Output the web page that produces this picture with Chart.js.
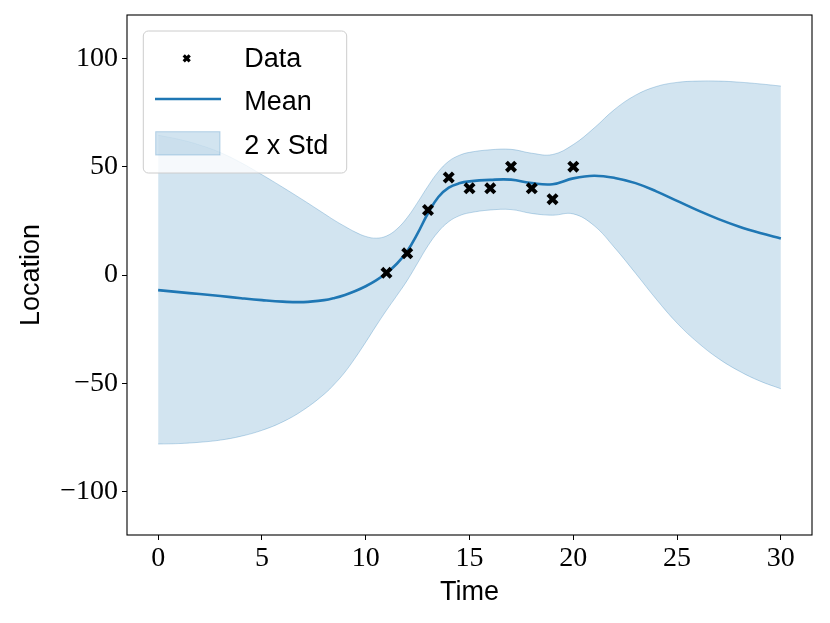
<!DOCTYPE html>
<html><head><meta charset="utf-8">
<script src="https://cdn.jsdelivr.net/npm/chart.js@4.4.0/dist/chart.umd.min.js"></script>
<style>html,body{margin:0;padding:0;background:#fff;}#wrap{width:830px;height:623px;position:relative;}</style>
</head><body><div id="wrap"><canvas id="c" width="830" height="623"></canvas></div>
<script>
const times = [0,1,2,3,4,5,6,7,8,8.5,9,9.5,10,10.5,11,11.5,12,12.5,13,13.5,14,14.5,15,16,17,18,19,20,21,22,23,24,25,26,27,28,29,30];
const meanValues = [-7,-7.9,-8.8,-9.7,-10.7,-11.6,-12.3,-12.5,-11.6,-10.6,-9.2,-7.4,-5.2,-2.5,0.9,5.2,11,19.2,28.5,36,40.3,42.3,43.2,43.9,44,42.4,41.9,44.6,45.8,44.8,42.4,38.6,34.2,29.8,25.8,22.3,19.4,16.9];
const upperValues = [64.5,62.6,60,56.5,51.8,46.3,40.5,34.5,28.3,25.2,22.4,19.8,17.8,17,18,21.2,26.5,33.5,41,47.7,52.5,55.2,56.6,57.8,58,56.2,55.6,60.2,67.8,76.5,83,87,88.9,89.5,89.5,89,88.2,87.2];
const lowerValues = [-78,-77.8,-77.2,-76.2,-74.4,-71.7,-67.8,-62.3,-55,-50.3,-44.8,-38.2,-31,-23.5,-16.3,-9.5,-2.5,5.5,13.5,20,24.6,27.3,28.7,30,30.2,28.4,27.6,28.2,22.8,12.5,0.8,-11.2,-22.2,-31.2,-38.6,-44.4,-49,-52.5];
const dataTimes = [11,12,13,14,15,16,17,18,19,20];
const dataValues = [1,10,30,45,40,40,50,40,35,50];
const xTicks = [0,5,10,15,20,25,30];
const yTicks = [-100,-50,0,50,100];
const legendLabels = ['Data','Mean','2 x Std'];

const BLUE = '#1f77b4';
const BAND = 'rgba(31,119,180,0.2)';
const BANDEDGE = 'rgba(31,119,180,0.28)';
const tickFont = {family:'Liberation Serif', size:28};
const labelFont = {family:'Liberation Sans', size:27};
const pts = arr => times.map((t,i)=>({x:t,y:arr[i]}));
const fmt = v => String(v).replace('-', '\u2212');

const framePlugin = {
  id:'frame',
  afterDraw(chart){
    const {ctx, chartArea:ca} = chart;
    ctx.save();
    ctx.strokeStyle = '#000';
    ctx.lineWidth = 1.1;
    ctx.strokeRect(ca.left, ca.top, ca.right-ca.left, ca.bottom-ca.top);
    const bx = ca.left + 16.3, by = ca.top + 16, bw = 203.4, bh = 142, r = 5;
    ctx.beginPath();
    ctx.moveTo(bx+r, by);
    ctx.arcTo(bx+bw, by, bx+bw, by+bh, r);
    ctx.arcTo(bx+bw, by+bh, bx, by+bh, r);
    ctx.arcTo(bx, by+bh, bx, by, r);
    ctx.arcTo(bx, by, bx+bw, by, r);
    ctx.closePath();
    ctx.fillStyle = 'rgba(255,255,255,0.8)';
    ctx.fill();
    ctx.strokeStyle = '#cccccc';
    ctx.lineWidth = 1;
    ctx.stroke();
    const mx = bx + 43.4, my = by + 27.3, d = 3;
    ctx.strokeStyle = '#000';
    ctx.lineWidth = 3.2;
    ctx.beginPath();
    ctx.moveTo(mx-d, my-d); ctx.lineTo(mx+d, my+d);
    ctx.moveTo(mx-d, my+d); ctx.lineTo(mx+d, my-d);
    ctx.stroke();
    ctx.strokeStyle = BLUE;
    ctx.lineWidth = 2.5;
    ctx.beginPath();
    ctx.moveTo(bx+11.7, by+68); ctx.lineTo(bx+77.7, by+68);
    ctx.stroke();
    ctx.fillStyle = BAND;
    ctx.fillRect(bx+12.4, by+100.7, 64.3, 23.3);
    ctx.strokeStyle = BANDEDGE;
    ctx.lineWidth = 1;
    ctx.strokeRect(bx+12.4, by+100.7, 64.3, 23.3);
    ctx.fillStyle = '#000';
    ctx.font = labelFont.size + 'px "' + labelFont.family + '"';
    ctx.textAlign = 'left';
    ctx.textBaseline = 'alphabetic';
    const bases = [35.7, 79, 123.3];
    legendLabels.forEach((t,i)=>ctx.fillText(t, bx+101, by+bases[i]));
    ctx.restore();
  }
};

new Chart(document.getElementById('c'), {
  type:'line',
  data:{
    datasets:[
      {label:'upper', data:pts(upperValues), borderColor:BANDEDGE, borderWidth:1, pointRadius:0, fill:'+1', backgroundColor:BAND, tension:0.4, order:3},
      {label:'lower', data:pts(lowerValues), borderColor:BANDEDGE, borderWidth:1, pointRadius:0, fill:false, tension:0.4, order:3},
      {label:'Mean', data:pts(meanValues), borderColor:BLUE, borderWidth:2.6, pointRadius:0, fill:false, tension:0.4, order:2},
      {label:'Data', type:'scatter', data:dataTimes.map((t,i)=>({x:t,y:dataValues[i]})), pointStyle:'crossRot', pointRadius:6.5, pointBorderWidth:4, borderColor:'#000', backgroundColor:'#000', order:1}
    ]
  },
  options:{
    responsive:false, animation:false, devicePixelRatio:1,
    layout:{padding:{left:0,right:18,top:15,bottom:0}},
    plugins:{legend:{display:false}, tooltip:{enabled:false}},
    scales:{
      x:{type:'linear', min:-1.5, max:31.5,
        afterBuildTicks:s=>{s.ticks = xTicks.map(v=>({value:v}));},
        afterFit:s=>{s.height = 88; s.paddingLeft = 0; s.paddingRight = 0;},
        ticks:{font:tickFont, color:'#000', padding:2, maxRotation:0, autoSkip:false, callback:fmt},
        grid:{display:true, drawOnChartArea:false, drawTicks:true, tickLength:5, color:'#000', lineWidth:1},
        border:{display:false},
        title:{display:true, text:'Time', font:labelFont, color:'#000', padding:{top:0,bottom:14}}
      },
      y:{type:'linear', min:-120, max:120,
        afterBuildTicks:s=>{s.ticks = yTicks.map(v=>({value:v}));},
        afterFit:s=>{s.width = 127; s.paddingTop = 0; s.paddingBottom = 0;},
        ticks:{font:tickFont, color:'#000', padding:4, autoSkip:false, callback:fmt},
        grid:{display:true, drawOnChartArea:false, drawTicks:true, tickLength:5, color:'#000', lineWidth:1},
        border:{display:false},
        title:{display:true, text:'Location', font:labelFont, color:'#000', padding:{top:15,bottom:0}}
      }
    }
  },
  plugins:[framePlugin]
});
</script></body></html>
